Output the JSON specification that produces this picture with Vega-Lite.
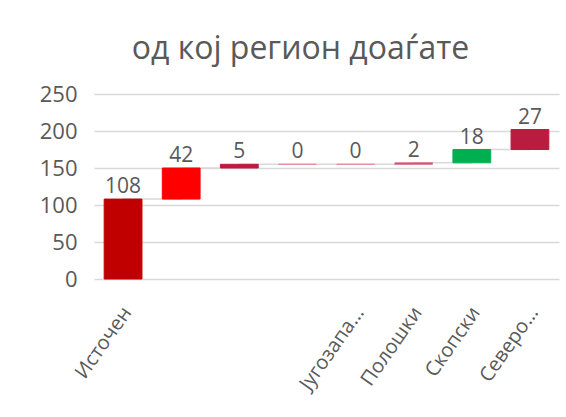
{
  "$schema": "https://vega.github.io/schema/vega-lite/v6.json",
  "autosize": {"type": "none"},
  "width": 465,
  "height": 185,
  "padding": {"left": 94, "top": 94, "right": 7, "bottom": 138},
  "background": "white",
  "config": {
    "font": "Open Sans",
    "view": {"stroke": null},
    "axisY": {
      "title": null,
      "values": [0, 50, 100, 150, 200, 250],
      "domain": false,
      "ticks": false,
      "grid": true,
      "gridColor": "#d9d9d9",
      "gridWidth": 1.5,
      "labelFontSize": 22,
      "labelColor": "#595959",
      "labelPadding": 17,
      "labelOverlap": false
    }
  },
  "title": {
    "text": "од кој регион доаѓате",
    "fontSize": 32,
    "fontWeight": "normal",
    "color": "#595959",
    "anchor": "middle",
    "offset": 17,
    "dx": -26
  },
  "data": {
    "values": [
      {"cat": "Источен", "value": 108, "start": 0, "end": 108, "next": "Пелагониски"},
      {"cat": "Пелагониски", "value": 42, "start": 108, "end": 150, "next": "Вардарски"},
      {"cat": "Вардарски", "value": 5, "start": 150, "end": 155, "next": "Југоисточен"},
      {"cat": "Југоисточен", "value": 0, "start": 155, "end": 155, "next": "Југозападен"},
      {"cat": "Југозападен", "value": 0, "start": 155, "end": 155, "next": "Полошки"},
      {"cat": "Полошки", "value": 2, "start": 155, "end": 157, "next": "Скопски"},
      {"cat": "Скопски", "value": 18, "start": 157, "end": 175, "next": "Североисточен"},
      {"cat": "Североисточен", "value": 27, "start": 175, "end": 202, "next": null}
    ]
  },
  "encoding": {
    "x": {
      "field": "cat",
      "type": "nominal",
      "sort": null,
      "scale": {"paddingInner": 0.35, "paddingOuter": 0.175},
      "axis": {
        "title": null,
        "domain": false,
        "ticks": false,
        "labelAngle": -55,
        "labelAlign": "right",
        "labelBaseline": "top",
        "labelPadding": 24,
        "labelOffset": -4,
        "labelFontSize": 20,
        "labelColor": "#595959",
        "labelOverlap": false,
        "labelLimit": 0,
        "labelExpr": "datum.label == 'Југозападен' ? 'Југозапа...' : datum.label == 'Североисточен' ? 'Северо...' : (indexof(['Пелагониски','Вардарски','Југоисточен'], datum.label) >= 0 ? '' : datum.label)"
      }
    },
    "y": {"field": "end", "type": "quantitative", "scale": {"domain": [0, 250]}}
  },
  "layer": [
    {
      "transform": [{"filter": "datum.next != null"}],
      "mark": {"type": "rule", "color": "#d9d9d9", "strokeWidth": 1.5},
      "encoding": {
        "x2": {"field": "next"}
      }
    },
    {
      "mark": {"type": "bar", "strokeWidth": 1},
      "encoding": {
        "y": {"field": "start", "type": "quantitative", "scale": {"domain": [0, 250]}},
        "y2": {"field": "end"},
        "fill": {
          "field": "cat",
          "type": "nominal",
          "legend": null,
          "scale": {
            "domain": ["Источен", "Пелагониски", "Вардарски", "Југоисточен", "Југозападен", "Полошки", "Скопски", "Североисточен"],
            "range": ["#c00000", "#ff0000", "#c0183f", "#e07890", "#e07890", "#c83a5a", "#00b050", "#b91c3e"]
          }
        },
        "stroke": {
          "field": "cat",
          "type": "nominal",
          "legend": null,
          "scale": {
            "domain": ["Источен", "Пелагониски", "Вардарски", "Југоисточен", "Југозападен", "Полошки", "Скопски", "Североисточен"],
            "range": ["#c00000", "#ff0000", "#c0183f", "#e88a9e", "#e88a9e", "#e07890", "#00b050", "#b91c3e"]
          }
        }
      }
    },
    {
      "mark": {"type": "text", "fontSize": 21, "color": "#595959", "baseline": "alphabetic", "dy": -6},
      "encoding": {
        "text": {"field": "value", "type": "quantitative"}
      }
    }
  ]
}
